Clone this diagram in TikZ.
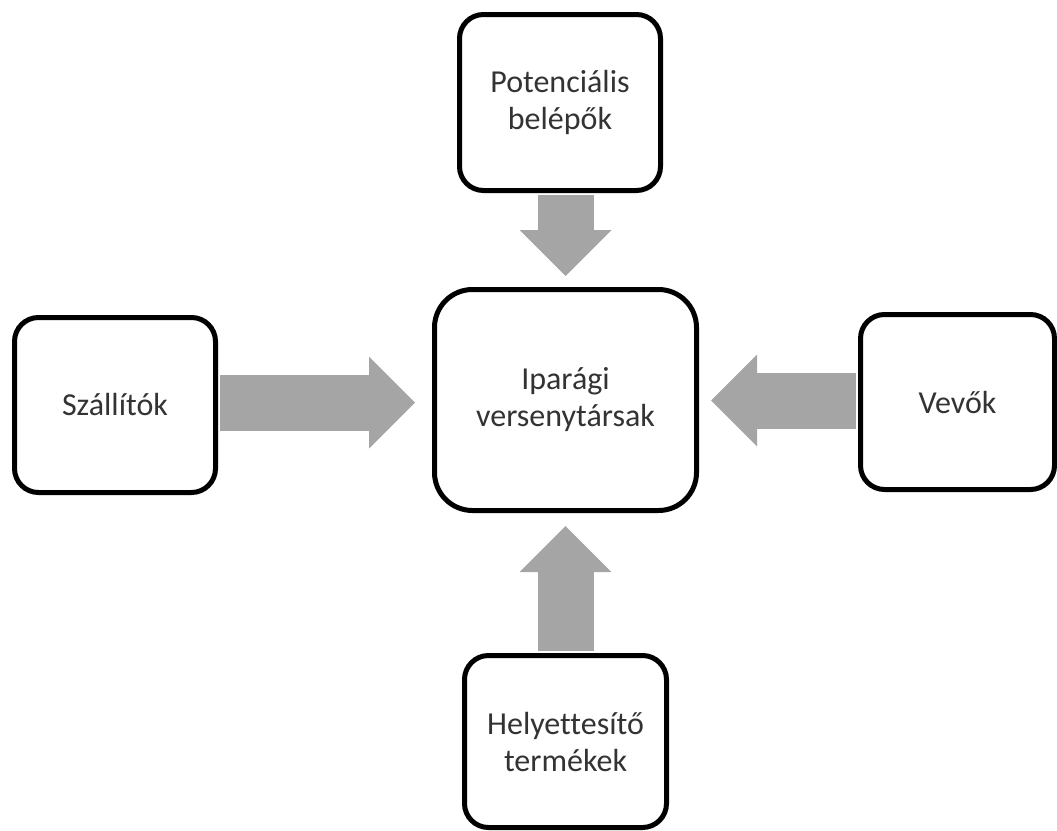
\documentclass[tikz,border=0pt]{standalone}
\usepackage{fontspec}
\setmainfont{Carlito}[Ligatures=NoCommon]
\usetikzlibrary{arrows.meta}
\usetikzlibrary{positioning}
\definecolor{forcegray}{HTML}{A5A5A5}
\definecolor{labeltext}{HTML}{333333}
\tikzset{
    forcebox/.style={draw=black, line width=5pt, rounded corners=24pt, fill=white,
        align=center, text=labeltext, inner sep=0pt,
        font=\fontsize{32pt}{37pt}\selectfont},
    forcearrow/.style={draw=forcegray, line width=56pt, shorten <=2pt, miter limit=10,
        -{Triangle[length=46pt, width=92pt, line width=0pt, sharp]}, forcegray}
}

\begin{document}
\begin{tikzpicture}[x=1pt, y=-1pt]
                \useasboundingbox (0, 0) rectangle (1057, 830);
                \node[forcebox, minimum width=262pt, minimum height=221pt, rounded corners=38pt](ind) at (565.5, 400){Iparági\\versenytársak};
                \node[forcebox, minimum width=201pt, minimum height=176pt](pot) at (560, 102.5){Potenciális\\belépők};
                \node[forcebox, minimum width=201pt, minimum height=175pt](sup) at (115, 405){Szállítók};
                \node[forcebox, minimum width=194pt, minimum height=175pt](buy) at (957.5, 402){Vevők};
                \node[forcebox, minimum width=202pt, minimum height=172pt](sub) at (565.5, 741.5){Helyettesítő\\termékek};

                \draw[forcearrow, shorten >=11pt](ind.north |- pot.south)--(ind.north);
                \draw[forcearrow, shorten >=17pt](sup.east |- 0, 402.5)--(ind.west |- 0, 402.5);
                \draw[forcearrow, shorten >=12pt](buy.west |- 0, 400.5)--(ind.east |- 0, 400.5);
                \draw[forcearrow, shorten >=13pt](ind.south |- sub.north)--(ind.south);
            \end{tikzpicture}
\end{document}
